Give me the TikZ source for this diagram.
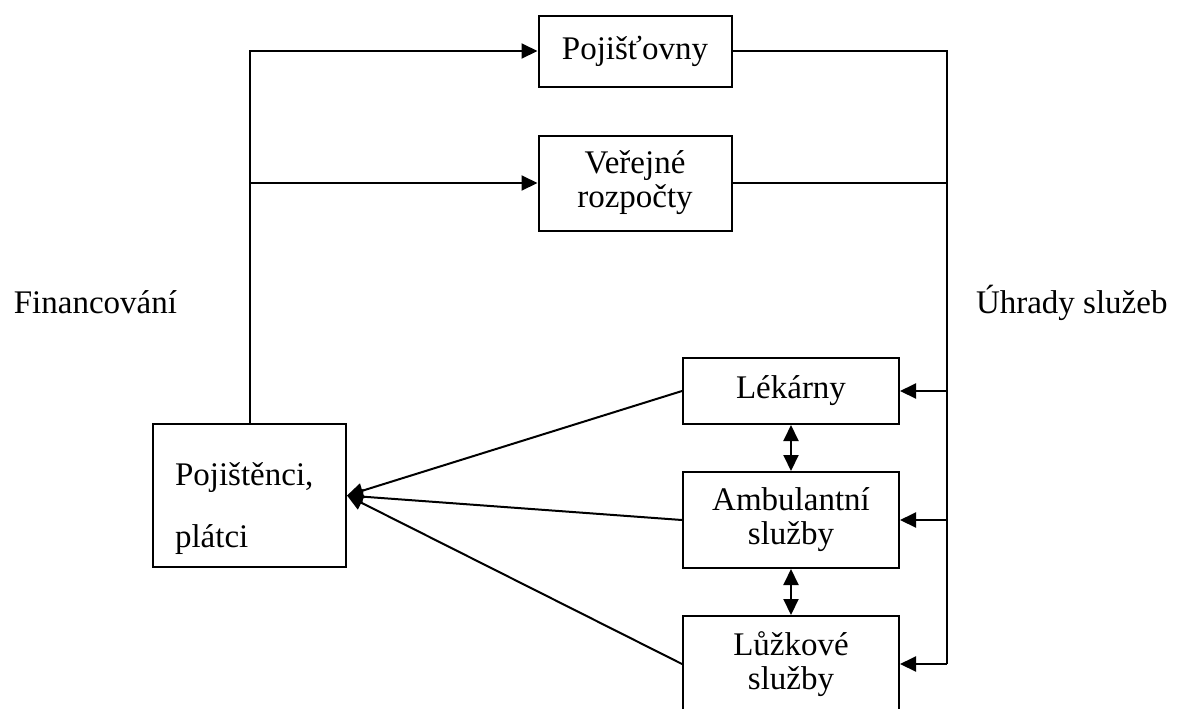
\documentclass[tikz,border=0pt]{standalone}
\usepackage{fontspec}
\setmainfont{Liberation Serif}
\usetikzlibrary{arrows.meta}
\tikzset{
  box/.style={draw,line width=1pt,minimum width=96.5pt,inner sep=0pt,align=center},
  tip/.style={-{Triangle[length=8pt,width=7.5pt]}},
  tips/.style={{Triangle[length=8pt,width=7.5pt]}-{Triangle[length=8pt,width=7.5pt]}}
}
\begin{document}
\begin{tikzpicture}[x=0.5pt,y=-0.5pt,line width=1pt,font=\fontsize{16.5}{17}\selectfont]
\useasboundingbox (0,0) rectangle (1179,708);
\clip (0,0) rectangle (1179,708);
% boxes
\node[box,minimum height=35.5pt] (ins) at (635,51) {Pojišťovny};
\node[box,minimum height=47.5pt] (budget) at (635,183) {Veřejné\\rozpočty};
\node[box,minimum width=108pt,minimum height=33pt] (pharm) at (791,391) {Lékárny};
\node[box,minimum width=108pt,minimum height=48pt] (amb) at (791,520) {Ambulantní\\služby};
\node[box,minimum width=108pt,minimum height=48pt] (bed) at (791,664) {Lůžkové\\služby};
\node[box,minimum height=71.5pt] (payer) at (249.5,495.5) {};
\node[anchor=base west,align=left,inner sep=0pt,font=\fontsize{16.5}{31}\selectfont] (payertext) at (174,547) {Pojištěnci,\\plátci};
% labels
\node[anchor=base east,inner sep=0pt] (fin) at (178,313) {Financování};
\node[anchor=base west,inner sep=0pt] (pay) at (975,313) {Úhrady služeb};
% financing
\draw[tip] (payer.north) |- (ins.west);
\draw[tip] (payer.north |- budget.west) -- (budget.west);
% payments
\coordinate (rbot) at (947,664);
\draw (ins.east) -| (rbot);
\draw (budget.east) -- (budget.east -| rbot);
\draw[tip] (pharm.east -| rbot) -- (pharm.east);
\draw[tip] (amb.east -| rbot) -- (amb.east);
\draw[tip] (rbot) -- (bed.east);
% providers
\draw[tips] (pharm.south) -- (amb.north);
\draw[tips] (amb.south) -- (bed.north);
\draw[tip] (pharm.west) -- (payer.east);
\draw[tip] (amb.west) -- (payer.east);
\draw[tip] (bed.west) -- (payer.east);
\end{tikzpicture}
\end{document}
